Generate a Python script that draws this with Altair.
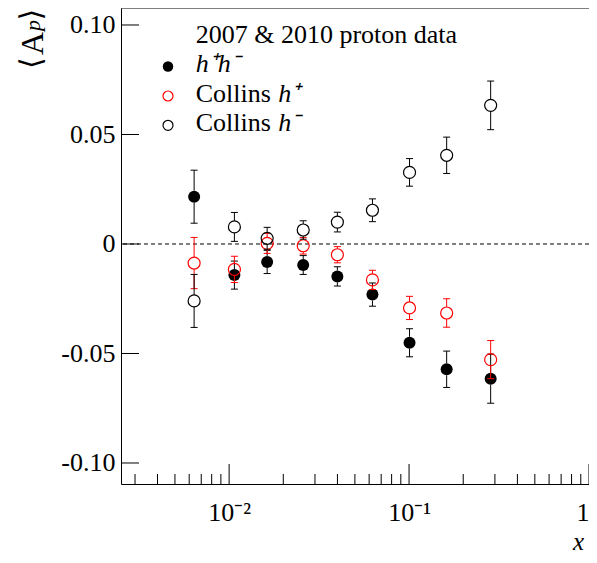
import altair as alt
import pandas as pd

# ---------------- data ----------------
x_bins = [0.00639, 0.0107, 0.01627, 0.02581, 0.03996, 0.06259, 0.1006, 0.1618, 0.2841]

hh_val = [0.0216, -0.0142, -0.0082, -0.0096, -0.0148, -0.0231, -0.0451, -0.0572, -0.0615]
hh_err = [0.0121, 0.0064, 0.0053, 0.0043, 0.0044, 0.0053, 0.0064, 0.0083, 0.0112]

cp_val = [-0.0087, -0.0116, 0.0003, -0.0008, -0.0049, -0.0164, -0.0292, -0.0315, -0.0528]
cp_err = [0.0117, 0.0060, 0.0046, 0.0038, 0.0037, 0.0044, 0.0053, 0.0065, 0.0087]

cm_val = [-0.0260, 0.0078, 0.0026, 0.0064, 0.0100, 0.0154, 0.0327, 0.0405, 0.0633]
cm_err = [0.0121, 0.0066, 0.0050, 0.0042, 0.0045, 0.0052, 0.0063, 0.0083, 0.0111]

x_major = [0.01, 0.1, 1.0]
x_major_labels = ["10\u207b\u00b2", "10\u207b\u00b9", "1"]
x_minor = [0.003, 0.004, 0.005, 0.006, 0.007, 0.008, 0.009,
           0.02, 0.03, 0.04, 0.05, 0.06, 0.07, 0.08, 0.09,
           0.2, 0.3, 0.4, 0.5, 0.6, 0.7, 0.8, 0.9]
y_ticks = [-0.10, -0.05, 0.0, 0.05, 0.10]
y_tick_labels = ["-0.10", "-0.05", "0", "0.05", "0.10"]

legend_title = ["2007 & 2010 proton data"]
legend_hh = ["h\u207ah\u207b"]
legend_collins = ["Collins"]
legend_hp = ["h\u207a"]
legend_hm = ["h\u207b"]
x_title = ["x"]

# ---------------- layout ----------------
W, H = 468, 476
X_DOM = [0.002507, 1.0]
Y_DOM = [-0.10959, 0.10776]
FONT = "'Times New Roman', 'Liberation Serif', serif"
RED = "#ff0000"

xs = alt.Scale(type="log", domain=X_DOM, nice=False)
ys = alt.Scale(domain=Y_DOM, nice=False, zero=False)

xlab_expr = "[" + ",".join("'%s'" % s for s in x_major_labels) + "][indexof([" + \
    ",".join(str(v) for v in x_major) + "], datum.value)]"
ylab_expr = "[" + ",".join("'%s'" % s for s in y_tick_labels) + "][round((datum.value + 0.1) / 0.05)]"

xaxis = alt.Axis(values=x_major, labelExpr=xlab_expr, title=None, ticks=False, tickSize=0,
                 grid=False, domainColor="black", domainWidth=1, labelFont=FONT,
                 labelFontSize=26, labelColor="black", labelPadding=36,
                 labelBaseline="alphabetic", labelFlush=True, labelOverlap=False)
yaxis = alt.Axis(values=y_ticks, labelExpr=ylab_expr, title=None, ticks=False, tickSize=0,
                 grid=False, domainColor="black", domainWidth=1, labelFont=FONT,
                 labelFontSize=26, labelColor="black", labelPadding=6,
                 labelFlush=False, labelOverlap=False)

layers = []

# zero dashed line (carries y axis)
layers.append(
    alt.Chart(pd.DataFrame({"y": [0.0]})).mark_rule(color="black", strokeWidth=1, strokeDash=[4, 3])
    .encode(y=alt.Y("y:Q", scale=ys, axis=yaxis))
)
# x major ticks (carries x axis)
layers.append(
    alt.Chart(pd.DataFrame({"x": x_major})).mark_rule(color="black", strokeWidth=1)
    .encode(x=alt.X("x:Q", scale=xs, axis=xaxis), y=alt.value(H), y2=alt.value(H - 20))
)
layers.append(
    alt.Chart(pd.DataFrame({"x": x_minor})).mark_rule(color="black", strokeWidth=1)
    .encode(x=alt.X("x:Q", scale=xs), y=alt.value(H), y2=alt.value(H - 10))
)
# y ticks
layers.append(
    alt.Chart(pd.DataFrame({"y": y_ticks})).mark_rule(color="black", strokeWidth=1)
    .encode(y=alt.Y("y:Q", scale=ys), x=alt.value(0), x2=alt.value(18))
)
# top frame
layers.append(
    alt.Chart(pd.DataFrame({"y": [Y_DOM[1]]})).mark_rule(color="black", strokeWidth=1)
    .encode(y=alt.Y("y:Q", scale=ys), x=alt.value(0), x2=alt.value(W))
)


def series_layers(vals, errs, color, filled):
    df = pd.DataFrame({"x": x_bins, "y": vals, "err": errs})
    base = alt.Chart(df).transform_calculate(lo="datum.y - datum.err", hi="datum.y + datum.err")
    X = alt.X("x:Q", scale=xs)
    out = [
        base.mark_rule(color=color, strokeWidth=1, yOffset=-6).encode(
            x=X, y=alt.Y("y:Q", scale=ys), y2="hi:Q"),
        base.mark_rule(color=color, strokeWidth=1, yOffset=6).encode(
            x=X, y=alt.Y("y:Q", scale=ys), y2="lo:Q"),
        base.mark_rule(color=color, strokeWidth=1, xOffset=-3.5, x2Offset=3.5).encode(
            x=X, x2="x:Q", y=alt.Y("hi:Q", scale=ys)),
        base.mark_rule(color=color, strokeWidth=1, xOffset=-3.5, x2Offset=3.5).encode(
            x=X, x2="x:Q", y=alt.Y("lo:Q", scale=ys)),
    ]
    if filled:
        pt = base.mark_point(shape="circle", filled=True, size=144, color=color, opacity=1)
    else:
        pt = base.mark_point(shape="circle", filled=False, size=144, color=color,
                             strokeWidth=1.2, opacity=1)
    out.append(pt.encode(x=X, y=alt.Y("y:Q", scale=ys)))
    return out


layers += series_layers(hh_val, hh_err, "black", True)
layers += series_layers(cp_val, cp_err, RED, False)
layers += series_layers(cm_val, cm_err, "black", False)


def text_layer(txt, x, y, size=26, style="normal", align="left", angle=0, font=FONT):
    return alt.Chart(pd.DataFrame({"t": txt})).mark_text(
        font=font, fontSize=size, fontStyle=style, align=align, baseline="alphabetic",
        angle=angle, color="black").encode(text="t:N", x=alt.value(x), y=alt.value(y))


def legend_marker(color, filled, y):
    if filled:
        m = alt.Chart(pd.DataFrame({"k": [0]})).mark_point(shape="circle", filled=True, size=110,
                                                           color=color, opacity=1)
    else:
        m = alt.Chart(pd.DataFrame({"k": [0]})).mark_point(shape="circle", filled=False, size=100,
                                                           color=color, strokeWidth=1.2, opacity=1)
    return m.encode(x=alt.value(47), y=alt.value(y))


# legend
layers.append(text_layer(legend_title, 74.7, 35))
layers.append(legend_marker("black", True, 58.5))
layers.append(text_layer(legend_hh, 74.7, 64.3, style="italic"))
layers.append(legend_marker(RED, False, 88))
layers.append(text_layer(legend_collins, 74.7, 93.6))
layers.append(text_layer(legend_hp, 157.3, 93.6, style="italic"))
layers.append(legend_marker("black", False, 117.3))
layers.append(text_layer(legend_collins, 74.7, 122.9))
layers.append(text_layer(legend_hm, 157.3, 122.9, style="italic"))

# x title
layers.append(text_layer(x_title, 463, 541.5, size=25, style="italic", align="right"))

# y title  <A_p>
layers.append(text_layer(["\u27e8"], -80, 61, size=30, angle=270, font="DejaVu Sans"))
layers.append(text_layer(["A"], -78, 47, size=32, angle=270))
layers.append(text_layer(["p"], -81, 23, size=22, style="italic", angle=270))
layers.append(text_layer(["\u27e9"], -80, 12.5, size=30, angle=270, font="DejaVu Sans"))

chart = alt.layer(*layers).properties(
    width=W, height=H,
    padding={"left": 113, "top": 0, "right": 0, "bottom": 71},
    autosize=alt.AutoSizeParams(type="none"),
).configure_view(stroke=None)

chart.save("out.html", embed_options={"renderer": "svg", "actions": False})
